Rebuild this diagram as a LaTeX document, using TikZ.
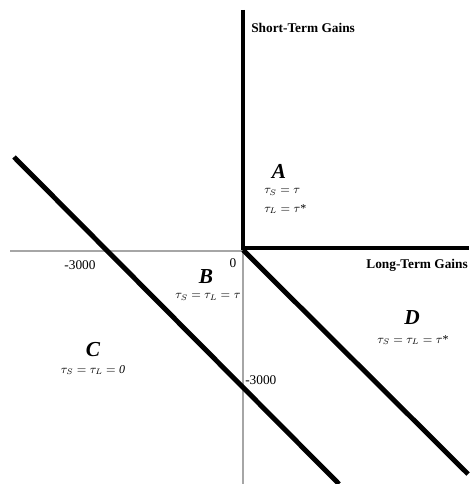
\documentclass[tikz,border=0pt]{standalone}
\usepackage{fontspec}
\setmainfont{Liberation Serif}
\begin{document}
\begin{tikzpicture}[x=0.75pt,y=-0.75pt,
  axis/.style={draw=gray!70,line width=0.8pt},
  bound/.style={draw=black,line width=3.7pt},
  title/.style={font=\fontsize{10}{12}\selectfont\bfseries,inner sep=0pt},
  num/.style={font=\fontsize{10}{12}\selectfont,inner sep=0pt},
  region/.style={font=\fontsize{16}{18}\selectfont\bfseries\itshape,inner sep=0pt},
  rule/.style={font=\fontsize{9}{10}\selectfont,inner sep=0pt}]
\useasboundingbox (0,0) rectangle (469,484);
% coordinates
\coordinate (O) at (243,250);
\coordinate (axL) at (10,251);
\coordinate (axB) at (243,484);
\coordinate (vTop) at (243,10);
\coordinate (hR) at (469,248);
\coordinate (cS) at (14,157);
\coordinate (cE) at (339,484);
\coordinate (dE) at (468,474);
% axes
\draw[axis] (axL) -- (243,251) -- (axB);
% boundaries
\draw[bound] (vTop) -- (243,248) -- (hR);
\draw[bound] (O) -- (dE);
\draw[bound] (cS) -- (cE);
% labels
\node[title,anchor=west] (st) at (251,28) {Short-Term Gains};
\node[title,anchor=east] (lt) at (468,265) {Long-Term Gains};
\node[num] (zero) at (233,263) {0};
\node[num] (mh) at (80,265) {-3000};
\node[num,anchor=west] (mv) at (245,380) {-3000};
\node[region] (A) at (279,171) {A};
\node[rule,anchor=west] (a1) at (264,192) {$\tau_S = \tau$};
\node[rule,anchor=west] (a2) at (264,209) {$\tau_L = \tau$*};
\node[region] (B) at (206,277) {B};
\node[rule] (b1) at (208,297) {$\tau_S = \tau_L = \tau$};
\node[region] (C) at (93,350) {C};
\node[rule] (c1) at (93,370) {$\tau_S = \tau_L = \mathit{0}$};
\node[region] (D) at (412,318) {D};
\node[rule] (d1) at (413,340) {$\tau_S = \tau_L = \tau$*};
\end{tikzpicture}
\end{document}
